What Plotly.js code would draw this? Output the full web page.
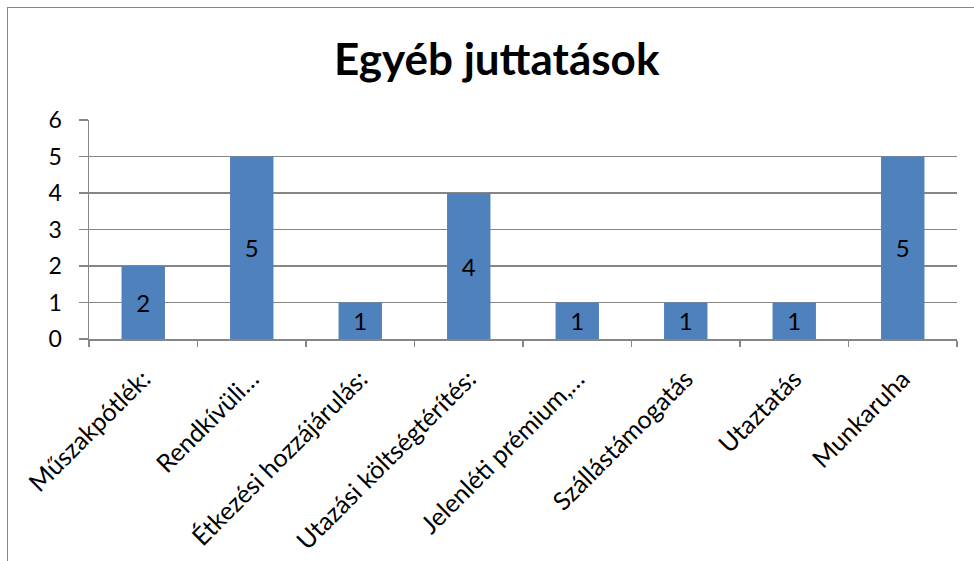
<!DOCTYPE html>
<html>
<head>
<meta charset="utf-8">
<script src="https://cdn.plot.ly/plotly-3.0.1.min.js"></script>
<style>
  html, body { margin: 0; padding: 0; background: #fff; }
  #wrap { position: relative; width: 974px; height: 561px; overflow: hidden; }
  #chart { position: absolute; left: 0; top: 0; width: 974px; height: 561px; }
  #frame { position: absolute; left: 7px; top: 7px; width: 1000px; height: 600px;
           border-left: 1.5px solid #868686; border-top: 1.5px solid #868686; pointer-events: none; }
</style>
</head>
<body>
<div id="wrap">
  <div id="chart"></div>
  <div id="frame"></div>
</div>
<script>
const categories = [
  "Műszakpótlék:",
  "Rendkívüli…",
  "Étkezési hozzájárulás:",
  "Utazási költségtérítés:",
  "Jelenléti prémium,…",
  "Szállástámogatás",
  "Utaztatás",
  "Munkaruha"
];
const values = [2, 5, 1, 4, 1, 1, 1, 5];
const yTicks = [0, 1, 2, 3, 4, 5, 6];
const chartTitle = "Egyéb juttatások";

const gray = "#868686";
const font = "Lato, Carlito, Calibri, 'Open Sans', sans-serif";

const trace = {
  type: "bar",
  x: categories,
  y: values,
  marker: { color: "#4F81BD", line: { width: 0 } },
  text: values.map(String),
  textposition: "inside",
  insidetextanchor: "middle",
  textangle: 0,
  textfont: { family: font, size: 24, color: "#000" },
  hoverinfo: "x+y"
};

const layout = {
  width: 974,
  height: 561,
  margin: { l: 89, r: 16.5, t: 120, b: 222, pad: 0 },
  paper_bgcolor: "#fff",
  plot_bgcolor: "#fff",
  showlegend: false,
  bargap: 0.6,
  title: {
    text: "<b>" + chartTitle + "</b>",
    font: { family: font, size: 44, color: "#000" },
    x: 0.51,
    xanchor: "center",
    y: 0.893,
    yanchor: "middle"
  },
  xaxis: {
    type: "category",
    showgrid: false,
    showline: true,
    linecolor: gray,
    linewidth: 1.5,
    ticks: "outside",
    tickson: "boundaries",
    ticklen: 6,
    tickwidth: 1.5,
    tickcolor: gray,
    tickangle: -45,
    ticklabelstandoff: 14,
    tickfont: { family: font, size: 25, color: "#000" },
    zeroline: false,
    fixedrange: true
  },
  yaxis: {
    range: [0, 6],
    tickvals: yTicks,
    ticktext: yTicks.map(String),
    showgrid: true,
    gridcolor: gray,
    gridwidth: 1.5,
    showline: true,
    linecolor: gray,
    linewidth: 1.5,
    ticks: "outside",
    ticklen: 9,
    tickwidth: 1.5,
    tickcolor: gray,
    ticklabelstandoff: 12,
    tickfont: { family: font, size: 23, color: "#000" },
    zeroline: false,
    fixedrange: true
  }
};

Plotly.newPlot("chart", [trace], layout, { displayModeBar: false, staticPlot: true });
</script>
</body>
</html>
